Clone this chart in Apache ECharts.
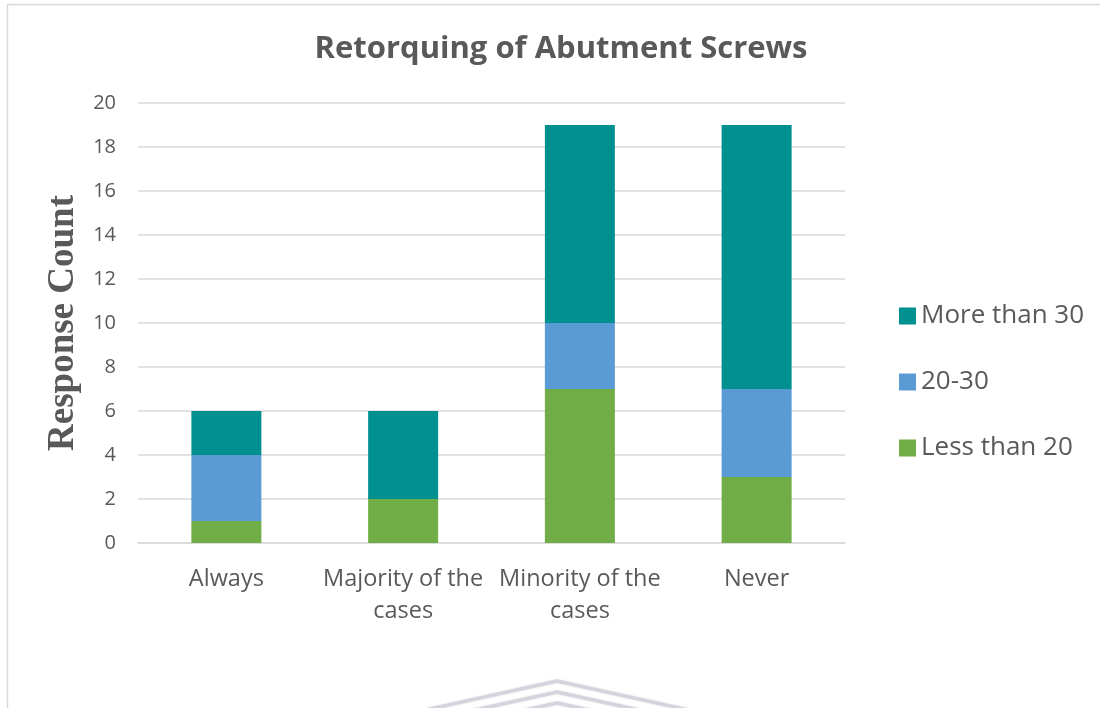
<!DOCTYPE html>
<html>
<head>
<meta charset="utf-8">
<script src="https://cdn.jsdelivr.net/npm/echarts@6/dist/echarts.min.js"></script>
<style>
  html, body { margin: 0; padding: 0; background: #ffffff; }
  #chart { width: 1100px; height: 708px; }
</style>
</head>
<body>
<div id="chart"></div>
<script>
// Response categories and counts per experience group
const categories = ['Always', 'Majority of the\ncases', 'Minority of the\ncases', 'Never'];
const lessThan20 = [1, 2, 7, 3];
const from20to30 = [3, 0, 3, 4];
const moreThan30 = [2, 4, 9, 12];
const yTicks = { min: 0, max: 20, interval: 2 };

const textColor = '#595959';
const font = '"Open Sans", "Noto Sans", sans-serif';

const chart = echarts.init(document.getElementById('chart'), null, { renderer: 'canvas' });

function barSeries(name, data, color) {
  return {
    name: name,
    type: 'bar',
    stack: 'total',
    data: data,
    barWidth: 70,
    itemStyle: { color: color },
    emphasis: { disabled: true }
  };
}

// faint chevron emblem near the bottom edge
function chevron(apexY) {
  const dx = 130;
  return {
    type: 'polyline',
    shape: { points: [[557 - dx, apexY + dx * 0.22], [557, apexY], [557 + dx, apexY + dx * 0.22]] },
    style: {
      stroke: '#d4d4de', lineWidth: 3.5, fill: 'none',
      shadowBlur: 2, shadowColor: 'rgba(210,210,222,0.8)'
    },
    silent: true
  };
}

chart.setOption({
  animation: false,
  backgroundColor: '#ffffff',
  title: {
    text: 'Retorquing of Abutment Screws',
    left: 556,
    textAlign: 'center',
    top: 29,
    textStyle: { fontFamily: font, fontSize: 31, fontWeight: 'bold', color: textColor }
  },
  grid: { left: 138, right: 255, top: 103, bottom: 165 },
  legend: {
    orient: 'vertical',
    left: 894,
    top: 298,
    itemWidth: 17,
    itemHeight: 17,
    itemGap: 40,
    icon: 'rect',
    data: ['More than 30', '20-30', 'Less than 20'],
    textStyle: { fontFamily: font, fontSize: 26, color: textColor }
  },
  xAxis: {
    type: 'category',
    data: categories,
    axisLine: { lineStyle: { color: '#d9d9d9', width: 1.5 } },
    axisTick: { show: false },
    axisLabel: {
      fontFamily: font, fontSize: 23.5, color: textColor,
      margin: 20, lineHeight: 32, interval: 0
    }
  },
  yAxis: {
    type: 'value',
    min: yTicks.min,
    max: yTicks.max,
    interval: yTicks.interval,
    name: 'Response Count',
    nameLocation: 'middle',
    nameGap: 51,
    nameTextStyle: {
      fontFamily: '"Liberation Serif", "DejaVu Serif", serif',
      fontSize: 37, fontWeight: 'bold', color: textColor
    },
    axisLine: { show: false },
    axisTick: { show: false },
    splitLine: { lineStyle: { color: '#d9d9d9', width: 1.5 } },
    axisLabel: { fontFamily: font, fontSize: 20, color: textColor, margin: 22 }
  },
  graphic: [
    {
      type: 'rect',
      shape: { x: 7.5, y: 4.5, width: 1200, height: 800 },
      style: { fill: 'none', stroke: '#d9d9d9', lineWidth: 1.5 },
      silent: true
    },
    chevron(681),
    chevron(692),
    chevron(703)
  ],
  series: [
    barSeries('Less than 20', lessThan20, '#70ad47'),
    barSeries('20-30', from20to30, '#5b9bd5'),
    barSeries('More than 30', moreThan30, '#009090')
  ]
});
</script>
</body>
</html>
